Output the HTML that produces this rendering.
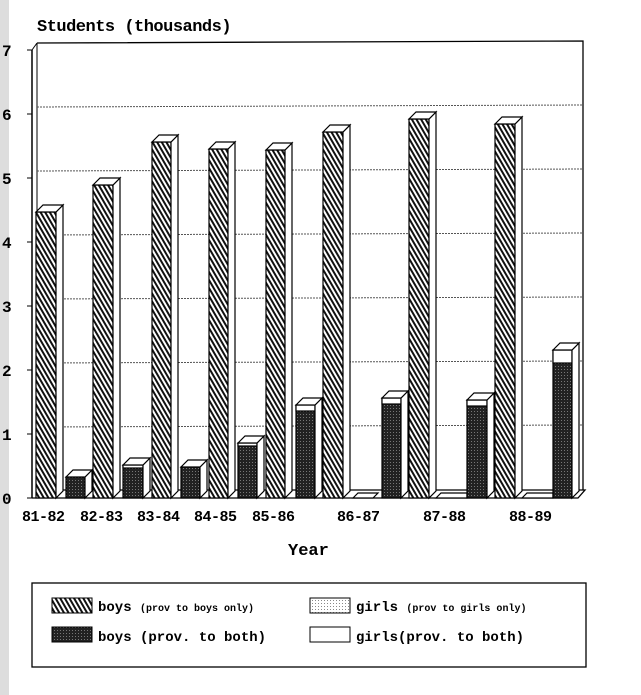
<!DOCTYPE html>
<html><head><meta charset="utf-8"><style>
body{margin:0;background:#fff;}
svg{display:block;font-family:"Liberation Serif",serif;}
</style></head><body>
<svg width="641" height="695" viewBox="0 0 641 695" xmlns="http://www.w3.org/2000/svg">
<defs>
<pattern id="h1" width="4" height="4" patternUnits="userSpaceOnUse" patternTransform="rotate(-30)">
<rect width="4" height="4" fill="#fff"/><rect width="2" height="4" fill="#111"/></pattern>
<pattern id="h2" width="3" height="3" patternUnits="userSpaceOnUse">
<rect width="3" height="3" fill="#222"/><rect width="1" height="1" fill="#777"/></pattern>
<pattern id="h3" width="3" height="3" patternUnits="userSpaceOnUse">
<rect width="3" height="3" fill="#fff"/><rect width="1" height="1" fill="#888"/></pattern>
</defs>
<rect x="0" y="0" width="9" height="695" fill="#ddd"/>
<text x="37" y="31" font-size="17" font-weight="bold" font-family="Liberation Mono,monospace" letter-spacing="-0.5">Students (thousands)</text>
<!-- back wall -->
<path d="M37 43 L583 41 L583 490" fill="none" stroke="#000" stroke-width="1.3"/>
<line x1="37" y1="43" x2="37" y2="490" stroke="#000"/>
<line x1="32" y1="50" x2="32" y2="498" stroke="#000" stroke-width="1.5"/>
<line x1="32" y1="50" x2="37" y2="43" stroke="#000"/>
<g stroke="#555" stroke-dasharray="2,1" stroke-width="1">
<line x1="37" y1="107" x2="583" y2="105"/>
<line x1="37" y1="171" x2="583" y2="169"/>
<line x1="37" y1="235" x2="583" y2="233"/>
<line x1="37" y1="299" x2="583" y2="297"/>
<line x1="37" y1="363" x2="583" y2="361"/>
<line x1="37" y1="427" x2="583" y2="425"/>
</g>
<path d="M32 498 L578 498 L585 490 L37 490" fill="none" stroke="#000" stroke-width="1.3"/>
<g font-size="16" font-weight="bold" font-family="Liberation Mono,monospace">
<text x="2" y="56">7</text><text x="2" y="120">6</text><text x="2" y="184">5</text><text x="2" y="248">4</text>
<text x="2" y="312">3</text><text x="2" y="376">2</text><text x="2" y="440">1</text><text x="2" y="504">0</text>
</g>
<g stroke="#000" stroke-width="1">
<line x1="27" y1="50" x2="32" y2="50"/><line x1="27" y1="114" x2="32" y2="114"/><line x1="27" y1="178" x2="32" y2="178"/>
<line x1="27" y1="242" x2="32" y2="242"/><line x1="27" y1="306" x2="32" y2="306"/><line x1="27" y1="370" x2="32" y2="370"/>
<line x1="27" y1="434" x2="32" y2="434"/><line x1="27" y1="498" x2="32" y2="498"/>
</g>
<g stroke="#000" stroke-width="1.2">
<!-- boys only bars: x, top -->
<g id="bars"></g>
</g>
<g stroke="#000" stroke-width="1.2" fill="#fff">
<!-- helper: front rect, side, top -->
<rect x="36" y="212" width="20" height="286" fill="url(#h1)"/><path d="M56 212 L63 205 L63 491 L56 498Z"/><path d="M36 212 L43 205 L63 205 L56 212Z"/>
<rect x="93" y="185" width="20" height="313" fill="url(#h1)"/><path d="M113 185 L120 178 L120 491 L113 498Z"/><path d="M93 185 L100 178 L120 178 L113 185Z"/>
<rect x="152" y="142" width="19" height="356" fill="url(#h1)"/><path d="M171 142 L178 135 L178 491 L171 498Z"/><path d="M152 142 L159 135 L178 135 L171 142Z"/>
<rect x="209" y="149" width="19" height="349" fill="url(#h1)"/><path d="M228 149 L235 142 L235 491 L228 498Z"/><path d="M209 149 L216 142 L235 142 L228 149Z"/>
<rect x="266" y="150" width="19" height="348" fill="url(#h1)"/><path d="M285 150 L292 143 L292 491 L285 498Z"/><path d="M266 150 L273 143 L292 143 L285 150Z"/>
<rect x="323" y="132" width="20" height="366" fill="url(#h1)"/><path d="M343 132 L350 125 L350 491 L343 498Z"/><path d="M323 132 L330 125 L350 125 L343 132Z"/>
<rect x="409" y="119" width="20" height="379" fill="url(#h1)"/><path d="M429 119 L436 112 L436 491 L429 498Z"/><path d="M409 119 L416 112 L436 112 L429 119Z"/>
<rect x="495" y="124" width="20" height="374" fill="url(#h1)"/><path d="M515 124 L522 117 L522 491 L515 498Z"/><path d="M495 124 L502 117 L522 117 L515 124Z"/>
<!-- dark bars -->
<rect x="66" y="477" width="19" height="21" fill="url(#h2)"/><path d="M85 477 L92 470 L92 491 L85 498Z"/><path d="M66 477 L73 470 L92 470 L85 477Z"/>
<rect x="123" y="465" width="20" height="33" fill="url(#h2)"/><rect x="123" y="465" width="20" height="3"/><path d="M143 465 L150 458 L150 491 L143 498Z"/><path d="M123 465 L130 458 L150 458 L143 465Z"/>
<rect x="181" y="467" width="19" height="31" fill="url(#h2)"/><path d="M200 467 L207 460 L207 491 L200 498Z"/><path d="M181 467 L188 460 L207 460 L200 467Z"/>
<rect x="238" y="443" width="19" height="55" fill="url(#h2)"/><rect x="238" y="443" width="19" height="3"/><path d="M257 443 L264 436 L264 491 L257 498Z"/><path d="M238 443 L245 436 L264 436 L257 443Z"/>
<rect x="296" y="405" width="19" height="93" fill="url(#h2)"/><rect x="296" y="405" width="19" height="6"/><path d="M315 405 L322 398 L322 491 L315 498Z"/><path d="M296 405 L303 398 L322 398 L315 405Z"/>
<path d="M353 498 L358 493 L378 493 L373 498Z"/>
<rect x="382" y="398" width="19" height="100" fill="url(#h2)"/><rect x="382" y="398" width="19" height="6"/><path d="M401 398 L408 391 L408 491 L401 498Z"/><path d="M382 398 L389 391 L408 391 L401 398Z"/>
<path d="M436 498 L441 493 L467 493 L467 498Z"/>
<rect x="467" y="400" width="20" height="98" fill="url(#h2)"/><rect x="467" y="400" width="20" height="6"/><path d="M487 400 L494 393 L494 491 L487 498Z"/><path d="M467 400 L474 393 L494 393 L487 400Z"/>
<path d="M522 498 L527 493 L553 493 L553 498Z"/>
<rect x="553" y="350" width="19" height="148" fill="url(#h2)"/><rect x="553" y="350" width="19" height="13"/><path d="M572 350 L579 343 L579 491 L572 498Z"/><path d="M553 350 L560 343 L579 343 L572 350Z"/>
</g>
<g font-size="15" font-weight="bold" font-family="Liberation Mono,monospace" letter-spacing="-0.5">
<text x="22" y="521">81-82</text><text x="80" y="521">82-83</text><text x="137" y="521">83-84</text><text x="194" y="521">84-85</text><text x="252" y="521">85-86</text>
<text x="337" y="521">86-87</text><text x="423" y="521">87-88</text><text x="509" y="521">88-89</text>
</g>
<text x="288" y="555" font-size="17" font-weight="bold" font-family="Liberation Mono,monospace">Year</text>
<rect x="32" y="583" width="554" height="84" fill="#fff" stroke="#000" stroke-width="1.3"/>
<rect x="52" y="598" width="40" height="15" fill="url(#h1)" stroke="#000"/>
<rect x="52" y="627" width="40" height="15" fill="url(#h2)" stroke="#000"/>
<rect x="310" y="598" width="40" height="15" fill="url(#h3)" stroke="#000"/>
<rect x="310" y="627" width="40" height="15" fill="#fff" stroke="#000"/>
<g font-weight="bold" font-family="Liberation Mono,monospace">
<text x="98" y="611" font-size="14">boys <tspan font-size="10">(prov to boys only)</tspan></text>
<text x="98" y="641" font-size="14">boys (prov. to both)</text>
<text x="356" y="611" font-size="14">girls <tspan font-size="10">(prov to girls only)</tspan></text>
<text x="356" y="641" font-size="14">girls(prov. to both)</text>
</g>
</svg>
</body></html>
